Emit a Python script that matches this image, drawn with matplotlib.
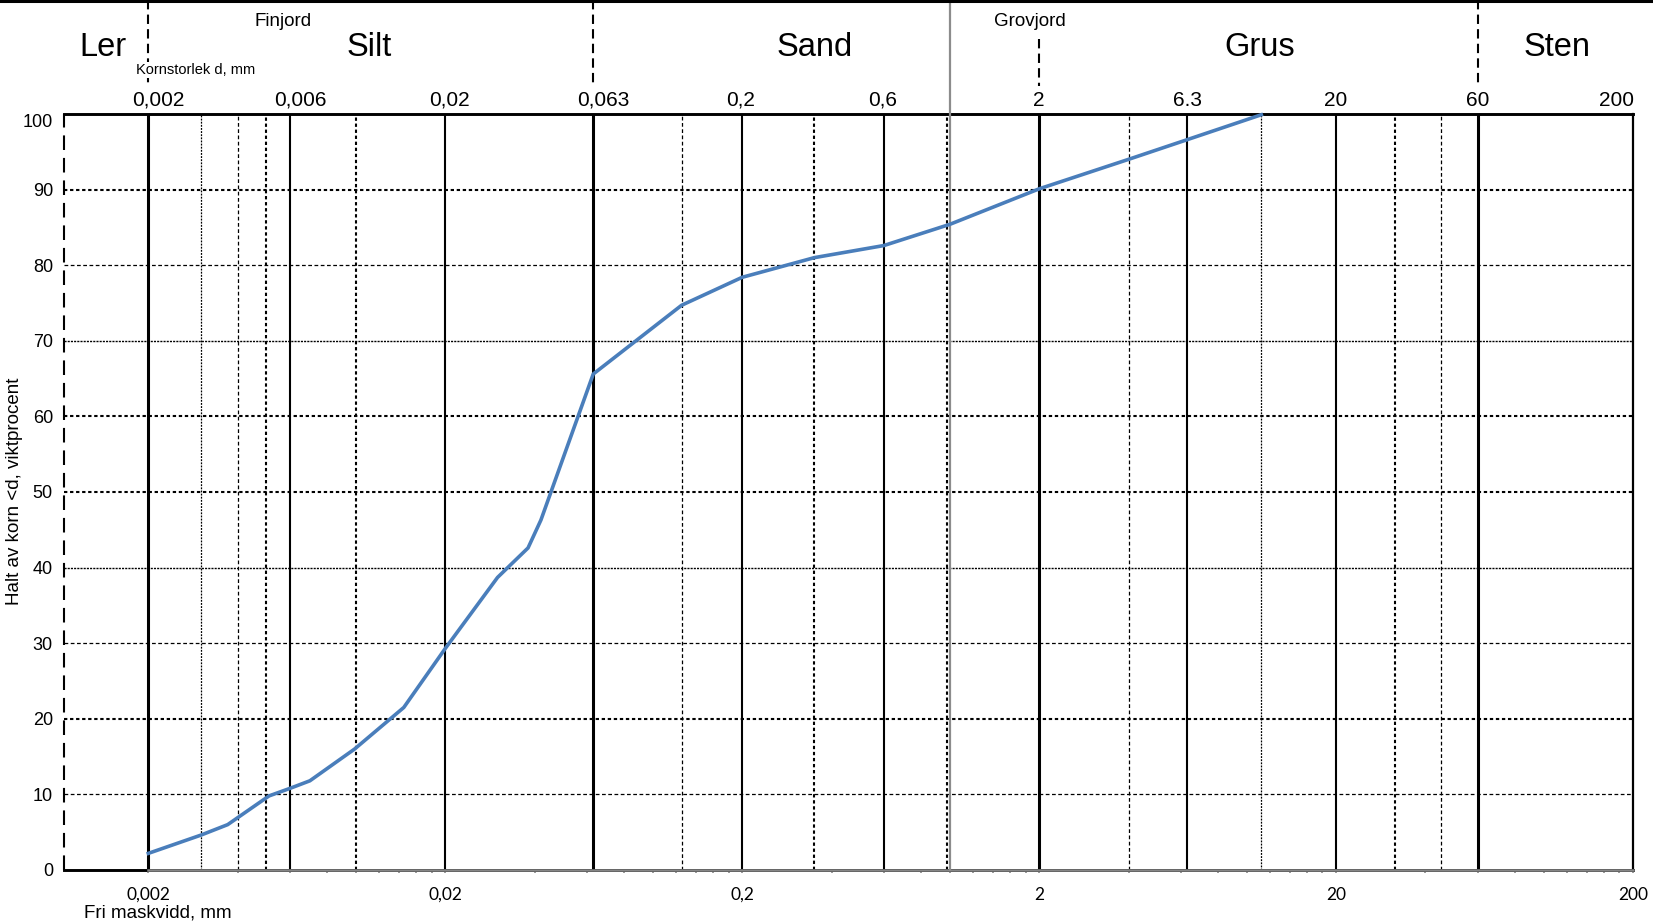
import numpy as np
import matplotlib
matplotlib.use('Agg')
import matplotlib.pyplot as plt
import matplotlib.transforms as mtransforms
from matplotlib.lines import Line2D
from matplotlib.ticker import NullFormatter

plt.rcParams['font.family'] = ['Liberation Sans', 'DejaVu Sans']

# ------------------------------------------------------------------
# Data: grain size distribution (mm, % passing)
# ------------------------------------------------------------------
GRAIN_MM = [0.002, 0.003, 0.0037, 0.0051, 0.006, 0.007, 0.0099, 0.0145,
            0.02, 0.03, 0.038, 0.042, 0.063, 0.125, 0.2, 0.35, 0.6, 1.0,
            2.0, 4.0, 6.3, 11.2]
PASSING_PCT = [2.2, 4.6, 6.0, 9.8, 10.8, 11.8, 16.0, 21.5,
               29.3, 38.7, 42.6, 46.3, 65.6, 74.7, 78.4, 81.0, 82.6, 85.4,
               90.1, 94.0, 96.6, 99.9]

TOP_TICKS = [0.002, 0.006, 0.02, 0.063, 0.2, 0.6, 2, 6.3, 20, 60, 200]
TOP_LABELS = ['0,002', '0,006', '0,02', '0,063', '0,2', '0,6', '2', '6.3', '20', '60', '200']
BOTTOM_TICKS = [0.002, 0.02, 0.2, 2, 20, 200]
BOTTOM_LABELS = ['0,002', '0,02', '0,2', '2', '20', '200']
Y_TICKS = list(range(0, 101, 10))

# soil fractions in the header
FRACTIONS = ['Ler', 'Silt', 'Sand', 'Grus', 'Sten']
FRACTION_X = [0.00141, 0.0111, 0.35, 11.1, 111]
GROUPS = ['Finjord', 'Grovjord']
GROUP_X = [0.0057, 1.86]

# vertical grid lines (mm)
THICK_X = [0.002, 0.063, 2, 60]
SOLID_X = [0.006, 0.02, 0.2, 0.6, 6.3, 20]
DOT_BOLD_X = [0.005, 0.01, 0.35, 0.98, 31.5]
DOT_FINE_X = [0.004, 0.125, 4, 45]
DOT_DENSE_X = [0.003, 11.2]
# horizontal grid lines (%)
DOT_BOLD_Y = [20, 50, 60, 90]
DOT_FINE_Y = [10, 30, 80]
DOT_DENSE_Y = [40, 70]

XMIN, XMAX = 0.00104, 200
W, H = 1653, 923

fig = plt.figure(figsize=(W / 100, H / 100), dpi=100)
ax = fig.add_axes([64 / W, 1 - 870 / H, (1633 - 64) / W, (870 - 114) / H])
ax.set_xscale('log')
ax.set_xlim(XMIN, XMAX)
ax.set_ylim(0, 100)
for s in ax.spines.values():
    s.set_visible(False)

# grid
for x in THICK_X:
    ax.axvline(x, color='black', lw=2.2, zorder=1)
for x in SOLID_X:
    ax.axvline(x, color='black', lw=1.5, zorder=1)
ax.axvline(XMAX, color='black', lw=1.6, zorder=1, clip_on=False)
for x in DOT_BOLD_X:
    ax.axvline(x, color='black', lw=1.5, ls=(0, (1.6, 1.3)), zorder=1)
for x in DOT_FINE_X:
    ax.axvline(x, color='black', lw=0.9, ls=(0, (3, 2)), zorder=1)
for x in DOT_DENSE_X:
    ax.axvline(x, color='black', lw=0.9, ls=(0, (1.5, 1)), zorder=1)
for y in DOT_BOLD_Y:
    ax.axhline(y, color='black', lw=1.5, ls=(0, (1.6, 1.3)), zorder=1)
for y in DOT_FINE_Y:
    ax.axhline(y, color='black', lw=0.9, ls=(0, (3, 2)), zorder=1)
for y in DOT_DENSE_Y:
    ax.axhline(y, color='black', lw=1.0, ls=(0, (1.5, 0.8)), zorder=1)

ax.axhline(100, color='black', lw=2.1, zorder=2, clip_on=False)
ax.axhline(0, color='black', lw=2.1, zorder=2, clip_on=False)
ax.plot([0.002, XMAX], [0, 0], color='#868686', lw=1.8, zorder=2, clip_on=False)
ax.axvline(XMIN, color='black', lw=1.5, ls=(0, (7, 3.8)), zorder=2, clip_on=False)

# curve
ax.plot(GRAIN_MM, PASSING_PCT, color='#4A7EBB', lw=2.6, zorder=4, clip_on=False)

# bottom axis ticks
ax.set_xticks(BOTTOM_TICKS, BOTTOM_LABELS)
minor = sorted(set(np.round(np.outer(10.0 ** np.arange(-3, 2), np.arange(2, 21, 2)).ravel(), 6)))
ax.set_xticks([m for m in minor if m not in BOTTOM_TICKS], minor=True)
ax.xaxis.set_minor_formatter(NullFormatter())
ax.tick_params(axis='x', which='both', direction='out', length=2.5, width=1.2,
               color='#868686', pad=9.5)
for lab in ax.get_xticklabels():
    lab.set_fontfamily(['Lato', 'DejaVu Sans'])
    lab.set_fontsize(12.5)

# y ticks; the top label sits a little below its line, as in the original
ax.set_yticks(Y_TICKS, [str(v) if v < 100 else '' for v in Y_TICKS])
ax.tick_params(axis='y', length=0, pad=8, labelsize=13)
ytr = mtransforms.offset_copy(ax.transAxes, fig=fig, x=-8, y=-4.5, units='points')
ax.text(0, 1, '100', transform=ytr, ha='right', va='center_baseline', fontsize=13)

# header
tr = mtransforms.blended_transform_factory(ax.transData, fig.transFigure)
tr_left = mtransforms.offset_copy(tr, fig=fig, x=-16 * 0.72, units='points')
for x, lab in zip(TOP_TICKS, TOP_LABELS):
    if x == XMAX:
        ax.text(x * 1.01, 1 - 106 / H, lab, transform=tr, ha='right', va='baseline', fontsize=15)
    elif lab.startswith('0,'):
        ax.text(x, 1 - 106 / H, lab, transform=tr_left, ha='left', va='baseline', fontsize=15)
    else:
        ax.text(x, 1 - 106 / H, lab, transform=tr, ha='center', va='baseline', fontsize=15)
for x, lab in zip(FRACTION_X, FRACTIONS):
    ax.text(x, 1 - 55.5 / H, lab, transform=tr, ha='center', va='baseline', fontsize=23.5)
for x, lab in zip(GROUP_X, GROUPS):
    ax.text(x, 1 - 25.5 / H, lab, transform=tr, ha='center', va='baseline', fontsize=13.5)
ax.text(0.00182, 1 - 74 / H, 'Kornstorlek d, mm', transform=tr, ha='left',
        va='baseline', fontsize=10.5, zorder=5,
        bbox=dict(facecolor='white', edgecolor='none', pad=1))

dash = (0, (4.5, 2.5))
for x in [0.002, 0.063, 60]:
    ax.add_line(Line2D([x, x], [1, 1 - 86 / H], transform=tr, color='black',
                       lw=1.5, ls=dash, clip_on=False, zorder=2))
ax.add_line(Line2D([2, 2], [1 - 39 / H, 1 - 86 / H], transform=tr, color='black',
                   lw=1.5, ls=dash, clip_on=False, zorder=2))
# fine/coarse soil divider
ax.add_line(Line2D([1.0, 1.0], [1, 1 - 870 / H], transform=tr, color='#8C8C8C',
                   lw=1.6, clip_on=False, zorder=3))
fig.add_artist(Line2D([0, 1], [1 - 1.3 / H] * 2, transform=fig.transFigure,
                      color='black', lw=2.2))

fig.text(84 / W, 1 - 918 / H, 'Fri maskvidd, mm', ha='left', va='baseline', fontsize=13.5)
fig.text(15 / W, 1 - 491 / H, 'Halt av korn <d, viktprocent', rotation=90,
         ha='center', va='center', fontsize=13.5)

fig.savefig('out.png', dpi=100)
